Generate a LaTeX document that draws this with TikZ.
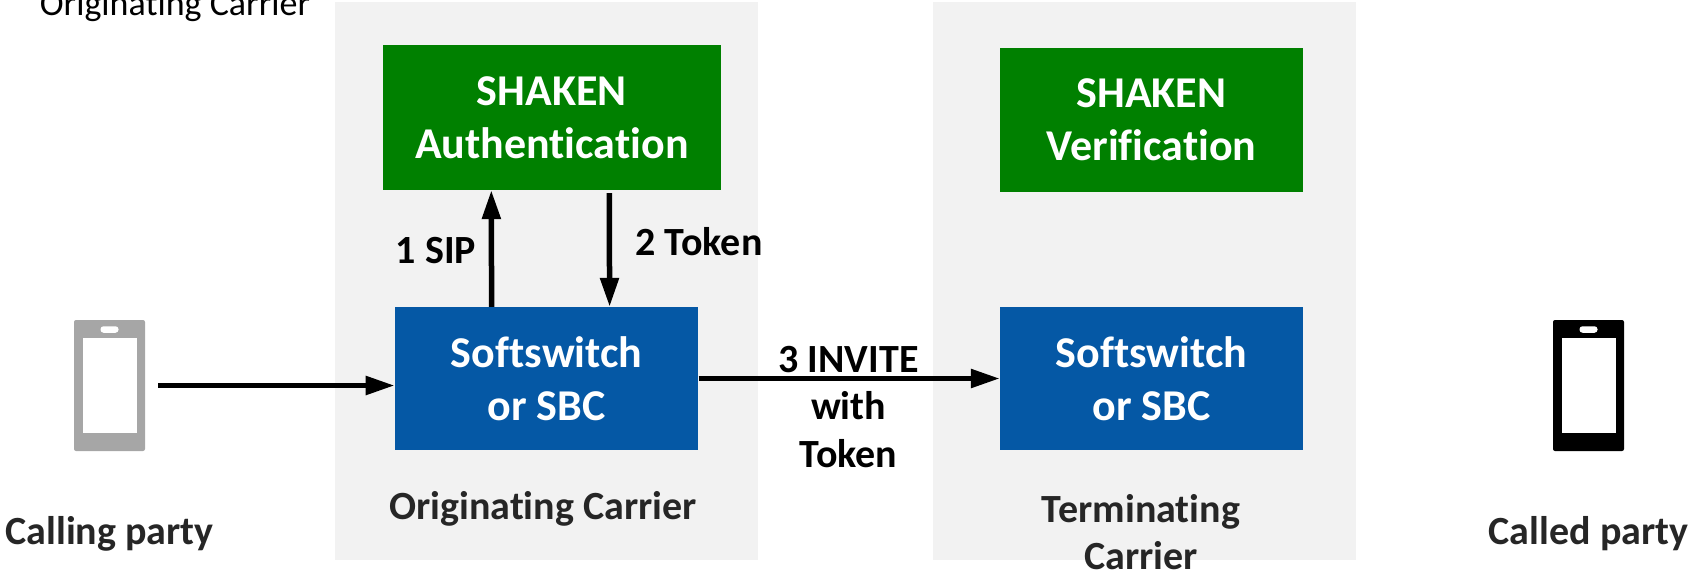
\documentclass[tikz,border=0pt]{standalone}
\usepackage{fontspec}
\setmainfont{Carlito}[Ligatures=NoCommon]
\usetikzlibrary{arrows.meta, positioning}

\definecolor{panelgray}{HTML}{F2F2F2}
\definecolor{shakengreen}{HTML}{008000}
\definecolor{switchblue}{HTML}{0558A5}
\definecolor{phonegray}{HTML}{A6A6A6}
\definecolor{labeltext}{HTML}{262626}

\tikzset{
    panel/.style = {fill=panelgray, minimum width=423pt, minimum height=558pt},
    netbox/.style = {text=white, align=center, inner sep=0pt,
        execute at begin node={\rule{0pt}{37pt}},
        font=\fontsize{44}{53}\selectfont\bfseries},
    phone/.style = {rounded corners=2pt, minimum width=71pt, minimum height=131pt, inner sep=0pt},
    screen/.style = {fill=white, minimum width=54pt, minimum height=95pt, inner sep=0pt},
    slot/.style = {fill=white, rounded corners=3pt, minimum width=18pt, minimum height=6.5pt, inner sep=0pt},
    caption/.style = {text=labeltext, align=center, font=\fontsize{40}{47}\selectfont\bfseries},
    msg/.style = {text=black, align=center, font=\fontsize{40}{47.5}\selectfont\bfseries},
    flow/.style = {-{Triangle[length=29pt,width=18pt]}, line width=5.5pt}
}

\begin{document}
\begin{tikzpicture} [x=1pt, y=1pt,
            node distance = 100pt,
            on grid]

        \useasboundingbox (0,0) rectangle (1690,-571);

        % Carrier panels
        \node (panela) [panel] at (546,-281) {};
        \node (panelb) [panel, right = 598.5pt of panela] {};

        % Originating side
        \node (softa) [netbox, fill=switchblue,
            minimum width=303.5pt, minimum height=143pt,
            below = 97.5pt of panela, xshift=0.6pt] {Softswitch\\or SBC};
        \node (auth) [netbox, fill=shakengreen,
            minimum width=338.5pt, minimum height=145pt,
            above = 261pt of softa, xshift=5.2pt] {SHAKEN\\Authentication};

        % Terminating side
        \node (softb) [netbox, fill=switchblue,
            minimum width=303pt, minimum height=143pt,
            right = 604.9pt of softa] {Softswitch\\or SBC};
        \node (verif) [netbox, fill=shakengreen,
            minimum width=303pt, minimum height=144pt,
            above = 258.5pt of softb] {SHAKEN\\Verification};

        % Calling phone
        \node (phonea) [phone, fill=phonegray,
            left = 437.1pt of softa, yshift=-7pt] {};
        \node (screena) [screen] at (phonea.center) {};
        \node (slota) [slot, above = 56pt of phonea] {};

        % Called phone
        \node (phoneb) [phone, fill=black,
            right = 437pt of softb, yshift=-7pt] {};
        \node (screenb) [screen] at (phoneb.center) {};
        \node (slotb) [slot, above = 56pt of phoneb] {};

        % Captions
        \node (calling) [caption, below = 148.5pt of phonea] {Calling party};
        \node (called) [caption, below = 148.5pt of phoneb] {Called party};
        \node (capa) [caption, below = 228pt of panela, xshift=-3pt] {Originating Carrier};
        \node (capb) [caption, below = 251.5pt of panelb, xshift=-3.5pt] {Terminating\\Carrier};
        \node (topcap) [text=black, font=\fontsize{36}{43}\selectfont, left = 371pt of panela, yshift=275pt] {Originating Carrier};

        % Arrows
        \draw [flow] ([xshift=13pt]phonea.east) -- (softa.west |- phonea);
        \draw [flow] ([xshift=-55pt]softa.north) -- ([xshift=-60.5pt]auth.south);
        \draw [flow] ([xshift=57.5pt,yshift=-3pt]auth.south) -- ([xshift=63pt]softa.north);
        \draw [flow] (softa) -- (softb);

        % Messages
        \node (sip) [msg, left = 115.75pt of auth, yshift=-133.5pt] {1 SIP};
        \node (token) [msg, right = 147.25pt of auth, yshift=-124.5pt] {2 Token};
        \node (invite) [msg, right = 302pt of softa, yshift=-28.5pt] {3 INVITE\\with\\Token};
\end{tikzpicture}
\end{document}
